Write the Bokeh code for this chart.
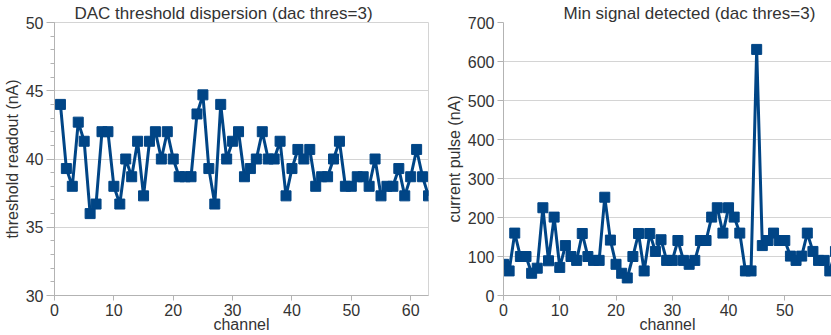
from bokeh.plotting import figure
from bokeh.layouts import row
from bokeh.models import SingleIntervalTicker, Range1d
from bokeh.embed import file_html
from bokeh.resources import INLINE

# ---- data ----
left_title = "DAC threshold dispersion (dac thres=3)"
left_ylabel = "threshold readout (nA)"
left_channels = list(range(1, 64))
left_values = [44.0, 39.3, 38.0, 42.7, 41.3, 36.0, 36.7, 42.0, 42.0, 38.0,
               36.7, 40.0, 38.7, 41.3, 37.3, 41.3, 42.0, 40.0, 42.0, 40.0,
               38.7, 38.7, 38.7, 43.3, 44.7, 39.3, 36.7, 44.0, 40.0, 41.3,
               42.0, 38.7, 39.3, 40.0, 42.0, 40.0, 40.0, 41.3, 37.3, 39.3,
               40.7, 40.0, 40.7, 38.0, 38.7, 38.7, 40.0, 41.3, 38.0, 38.0,
               38.7, 38.7, 38.0, 40.0, 37.3, 38.0, 38.0, 39.3, 37.3, 38.7,
               40.7, 38.7, 37.3]

right_title = "Min signal detected (dac thres=3)"
right_ylabel = "current pulse (nA)"
right_channels = list(range(0, 60))
right_values = [80, 63, 160, 100, 100, 57, 70, 225, 89, 201,
                72, 128, 100, 90, 159, 100, 90, 90, 252, 142,
                80, 57, 45, 100, 159, 63, 159, 113, 143, 90,
                90, 141, 90, 80, 90, 141, 141, 201, 225, 160,
                225, 201, 160, 63, 63, 631, 128, 141, 160, 141,
                141, 101, 90, 101, 160, 113, 90, 90, 63, 113]
x_label = "channel"

FONT = "Liberation Sans"
BLUE = "#004586"
GRID = "#d4d4d4"
AXIS = "#b3b3b3"
TEXT = "#333333"


def make(title, ylabel, xs, ys, xr, yr, yint, yminor, width,
         mbl, mbr, mbt, outline, toff, ytick_out):
    p = figure(width=width, height=335, output_backend="svg", toolbar_location=None,
               x_range=Range1d(*xr), y_range=Range1d(*yr),
               min_border_left=mbl, min_border_right=mbr,
               min_border_top=mbt, min_border_bottom=0)
    p.title.text = title
    p.title.text_font = FONT
    p.title.text_font_size = "17px"
    p.title.text_font_style = "normal"
    p.title.text_color = TEXT
    p.title.align = "left"
    p.title.offset = toff
    p.title.standoff = 0
    p.outline_line_color = GRID if outline else None

    p.xaxis.ticker = SingleIntervalTicker(interval=10, num_minor_ticks=0)
    p.yaxis.ticker = SingleIntervalTicker(interval=yint, num_minor_ticks=yminor)
    p.xgrid.visible = False
    p.ygrid.grid_line_color = GRID
    p.ygrid.grid_line_width = 1

    for ax in (p.xaxis[0], p.yaxis[0]):
        ax.axis_line_color = AXIS
        ax.major_tick_line_color = AXIS
        ax.minor_tick_line_color = AXIS
        ax.major_tick_in = 0
        ax.minor_tick_in = 0
        ax.major_label_text_font = FONT
        ax.major_label_text_font_size = "16px"
        ax.major_label_text_color = TEXT
        ax.axis_label_text_font = FONT
        ax.axis_label_text_font_size = "16px"
        ax.axis_label_text_font_style = "normal"
        ax.axis_label_text_color = TEXT
        ax.axis_label_standoff = 2
        ax.major_label_standoff = 3
    p.xaxis.major_tick_out = 5
    p.xaxis.major_label_standoff = 3
    p.xaxis.axis_label_standoff = -3
    p.yaxis.major_tick_out = ytick_out
    p.yaxis.minor_tick_out = 4
    p.yaxis.axis_label = ylabel
    p.xaxis.axis_label = x_label

    p.line(xs, ys, line_width=3, color=BLUE)
    p.scatter(xs, ys, marker="square", size=10, color=BLUE)
    return p


left = make(left_title, left_ylabel, left_channels, left_values, (0, 63), (30, 50),
            5, 5, 436, 48, 8, 18, True, 20, 8)
right = make(right_title, right_ylabel, right_channels, right_values, (0, 58.3), (0, 700),
             100, 0, 395, 67, 0, 22, False, 60, 6)

layout = row(left, right)
open("out.html", "w").write(file_html(layout, INLINE))
